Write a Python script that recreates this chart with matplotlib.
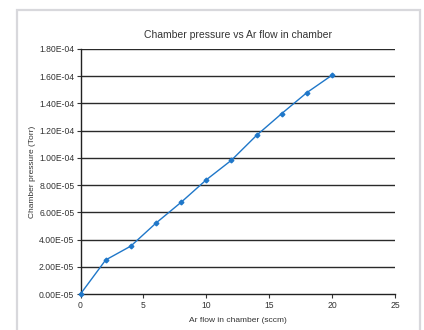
import numpy as np
import matplotlib.pyplot as plt
from matplotlib.patches import Rectangle

# data
ar_flow = [0, 2, 4, 6, 8, 10, 12, 14, 16, 18, 20]  # sccm
pressure = [0.0, 2.50e-5, 3.52e-5, 5.21e-5, 6.74e-5, 8.39e-5,
            9.83e-5, 1.166e-4, 1.326e-4, 1.48e-4, 1.608e-4]  # Torr
y_ticks = [0, 2e-5, 4e-5, 6e-5, 8e-5, 1e-4, 1.2e-4, 1.4e-4, 1.6e-4, 1.8e-4]
y_ticklabels = ['0.00E-05', '2.00E-05', '4.00E-05', '6.00E-05', '8.00E-05',
                '1.00E-04', '1.20E-04', '1.40E-04', '1.60E-04', '1.80E-04']
x_ticks = [0, 5, 10, 15, 20, 25]

plt.rcParams['font.family'] = ['Liberation Sans', 'DejaVu Sans']

W, H = 424, 330
fig = plt.figure(figsize=(W / 100, H / 100), dpi=100)

# light grey frame around the chart (open at the bottom)
fig.patches.append(Rectangle((16.5 / W, -0.1), (420 - 16.5) / W, 1.1 - 10.5 / H,
                             transform=fig.transFigure, fill=False,
                             edgecolor='#d8d8dc', linewidth=1.6))

ax = fig.add_axes([80.5 / W, 1 - 294 / H, (395 - 80.5) / W, (294 - 49) / H])
for yv in y_ticks[1:]:
    ax.axhline(yv, color='#2a2a2a', linewidth=1.0, zorder=1)

ax.plot(ar_flow, pressure, color='#1f77c9', linewidth=1.0,
        marker='D', markersize=2.4, zorder=3, clip_on=False)

ax.set_xlim(0, 25)
ax.set_ylim(0, 1.8e-4)
ax.set_xticks(x_ticks)
ax.set_yticks(y_ticks)
ax.set_yticklabels(y_ticklabels)
ax.tick_params(axis='both', labelsize=6.2, colors='#333333', length=3, width=0.8)
ax.tick_params(axis='x', pad=2)
ax.tick_params(axis='y', pad=1.5)
for s in ['top', 'right']:
    ax.spines[s].set_visible(False)
for s in ['left', 'bottom']:
    ax.spines[s].set_color('#222222')
    ax.spines[s].set_linewidth(1.0)

ax.set_title('Chamber pressure vs Ar flow in chamber', fontsize=7.5,
             color='#333333', pad=8)
ax.set_xlabel('Ar flow in chamber (sccm)', fontsize=6, color='#333333')
ax.xaxis.set_label_coords(0.5, -0.092)
ax.set_ylabel('Chamber pressure (Torr)', fontsize=6, color='#333333')
ax.yaxis.set_label_coords(-0.14, 0.5)

fig.savefig('out.png', dpi=100)
